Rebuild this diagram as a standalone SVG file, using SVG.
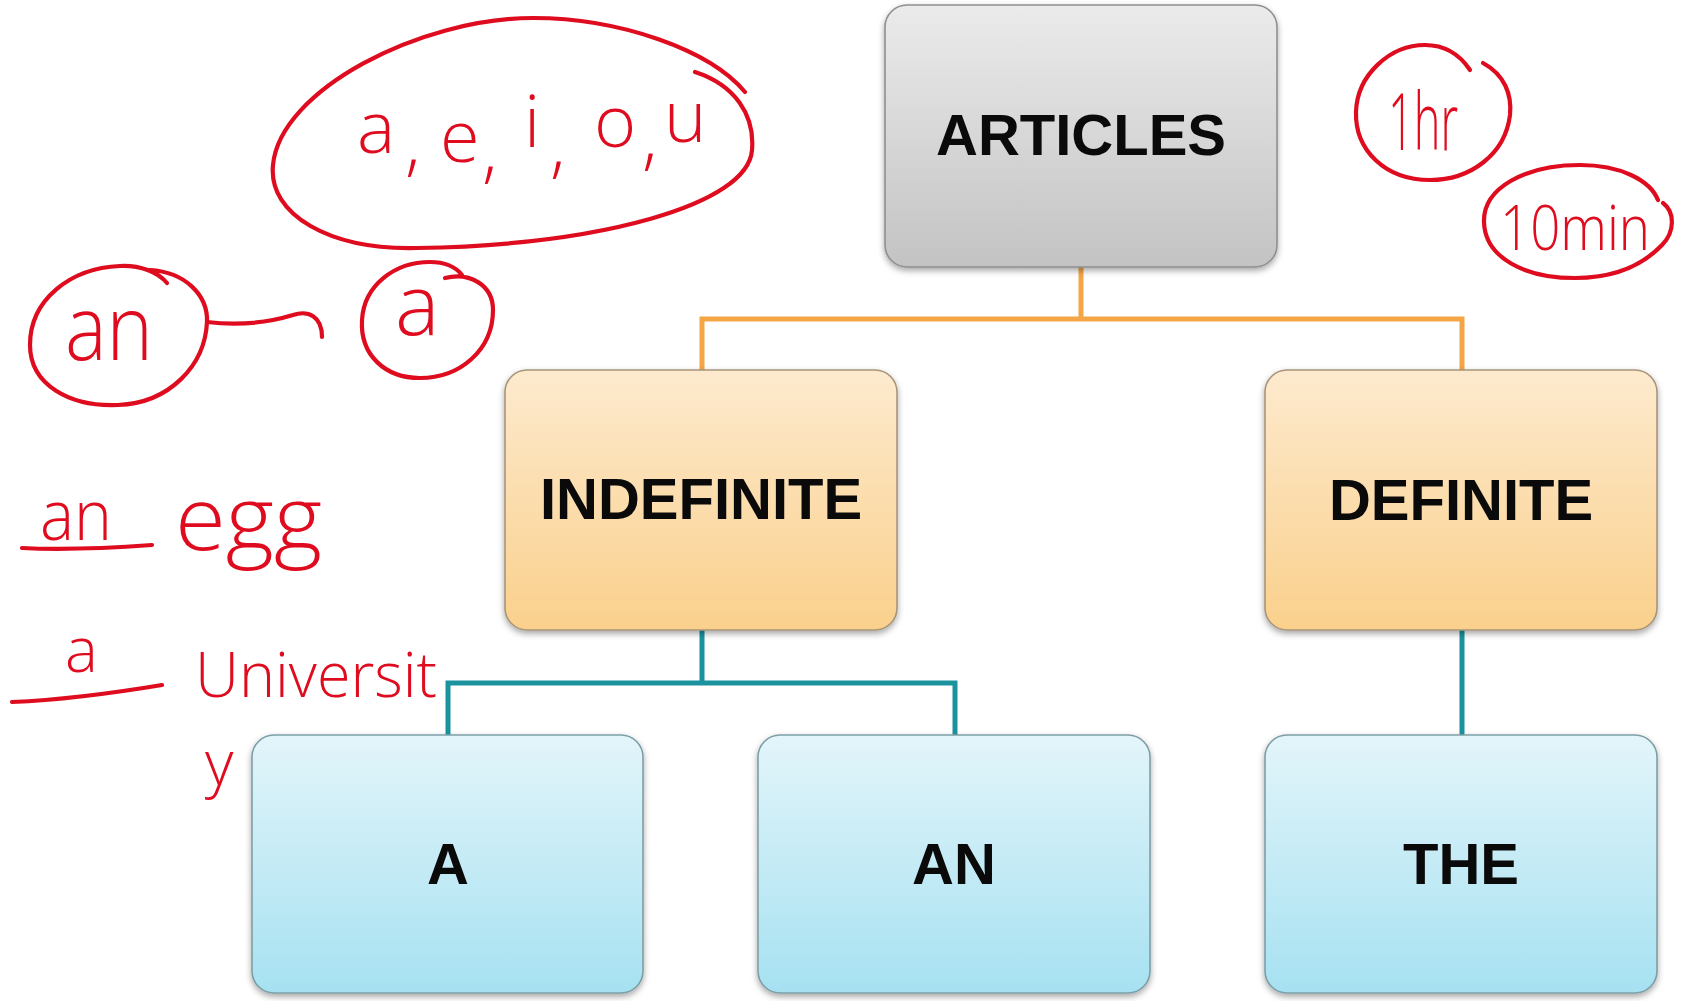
<svg xmlns="http://www.w3.org/2000/svg" width="1685" height="1001" viewBox="0 0 1685 1001">
<style>
.box{stroke-width:1.6}
.lbl{font-family:"Liberation Sans",Arial,sans-serif;font-weight:bold;font-size:58px;fill:#0a0a0a;text-anchor:middle}
.conn{fill:none;stroke-width:5;stroke-linejoin:miter}
.ink{fill:none;stroke:#de0c1e;stroke-width:4.2;stroke-linecap:round;stroke-linejoin:round}
.hand{font-family:"Open Sans","DejaVu Sans",sans-serif;font-weight:300;fill:#de0c1e}
</style>
<defs>
<linearGradient id="gGray" x1="0" y1="0" x2="0" y2="1"><stop offset="0" stop-color="#ebebeb"/><stop offset="1" stop-color="#c3c3c3"/></linearGradient>
<linearGradient id="gOrange" x1="0" y1="0" x2="0" y2="1"><stop offset="0" stop-color="#fdeace"/><stop offset="1" stop-color="#fad08c"/></linearGradient>
<linearGradient id="gBlue" x1="0" y1="0" x2="0" y2="1"><stop offset="0" stop-color="#e3f5fa"/><stop offset="1" stop-color="#a6e1f1"/></linearGradient>
<filter id="sh" x="-10%" y="-10%" width="120%" height="125%"><feDropShadow dx="0" dy="3" stdDeviation="3" flood-color="#000" flood-opacity="0.35"/></filter>
</defs>
<rect width="1685" height="1001" fill="#ffffff"/>
<g id="connectors">
<path class="conn" stroke="#f4a646" d="M1081,267 V319 M702,370 V319 H1462 V370"/>
<path class="conn" stroke="#1a939f" d="M702,630 V683 M448,735 V683 H955 V735 M1462,630 V735"/>
</g>
<g id="node-articles">
<rect class="box" x="885" y="5" width="392" height="262" rx="22" fill="url(#gGray)" stroke="#8f8f8f" filter="url(#sh)"/>
<text class="lbl" x="1081" y="155">ARTICLES</text>
</g>
<g id="node-indefinite">
<rect class="box" x="505" y="370" width="392" height="260" rx="22" fill="url(#gOrange)" stroke="#a8957a" filter="url(#sh)"/>
<text class="lbl" x="701" y="519">INDEFINITE</text>
</g>
<g id="node-definite">
<rect class="box" x="1265" y="370" width="392" height="260" rx="22" fill="url(#gOrange)" stroke="#a8957a" filter="url(#sh)"/>
<text class="lbl" x="1461" y="520">DEFINITE</text>
</g>
<g id="node-a">
<rect class="box" x="252" y="735" width="391" height="258" rx="22" fill="url(#gBlue)" stroke="#7e9ea6" filter="url(#sh)"/>
<text class="lbl" x="448" y="884">A</text>
</g>
<g id="node-an">
<rect class="box" x="758" y="735" width="392" height="258" rx="22" fill="url(#gBlue)" stroke="#7e9ea6" filter="url(#sh)"/>
<text class="lbl" x="954" y="884">AN</text>
</g>
<g id="node-the">
<rect class="box" x="1265" y="735" width="392" height="258" rx="22" fill="url(#gBlue)" stroke="#7e9ea6" filter="url(#sh)"/>
<text class="lbl" x="1461" y="884">THE</text>
</g>
<g id="annotations">
<path class="ink" d="M695,72 C735,85 755,115 752,150 C748,205 600,245 417,248 C330,250 268,215 273,165 C280,90 420,18 533,18 C620,18 710,50 745,92"/>
<text class="hand" font-size="72"><tspan x="357" y="153">a</tspan><tspan x="405" y="168">,</tspan><tspan x="440" y="162">e</tspan><tspan x="482" y="175">,</tspan><tspan x="524" y="147">i</tspan><tspan x="550" y="170">,</tspan><tspan x="594" y="147">o</tspan><tspan x="642" y="162">,</tspan><tspan x="664" y="142">u</tspan></text>
<path class="ink" d="M150,270 C185,272 208,295 207,322 C205,365 170,403 118,405 C70,407 30,385 30,345 C30,300 70,268 120,266 C140,265 158,272 167,283"/>
<text class="hand" font-size="90" x="65" y="360" textLength="88" lengthAdjust="spacingAndGlyphs">an</text>
<path class="ink" d="M207,322 C240,326 270,322 293,315 C308,310 322,316 322,337"/>
<path class="ink" d="M445,278 C470,272 493,285 493,310 C493,350 460,378 420,378 C385,378 360,355 362,320 C364,285 395,262 430,262 C445,262 455,266 462,275"/>
<text class="hand" font-size="84" x="395" y="335">a</text>
<text class="hand" font-size="70" x="40" y="540" textLength="72" lengthAdjust="spacingAndGlyphs">an</text>
<path class="ink" d="M22,548 C60,550 110,548 152,545"/>
<text class="hand" font-size="88" x="175" y="550" textLength="147" lengthAdjust="spacingAndGlyphs">egg</text>
<text class="hand" font-size="62" x="65" y="672">a</text>
<path class="ink" d="M12,702 C60,700 120,692 162,685"/>
<text class="hand" font-size="62" x="195" y="697" textLength="242" lengthAdjust="spacingAndGlyphs">Universit</text>
<text class="hand" font-size="62" x="205" y="785">y</text>
<path class="ink" d="M1483,63 C1505,75 1512,95 1510,115 C1505,155 1470,180 1430,180 C1385,180 1355,150 1356,112 C1357,75 1390,45 1425,45 C1445,45 1460,55 1470,70"/>
<text class="hand" font-size="80" x="1388" y="150" textLength="70" lengthAdjust="spacingAndGlyphs">1hr</text>
<path class="ink" d="M1663,203 C1675,212 1675,232 1662,245 C1640,268 1610,278 1575,278 C1525,278 1485,258 1484,222 C1483,188 1525,165 1580,165 C1620,165 1650,180 1658,200"/>
<text class="hand" font-size="62" x="1500" y="250" textLength="150" lengthAdjust="spacingAndGlyphs">10min</text>
</g>
</svg>
